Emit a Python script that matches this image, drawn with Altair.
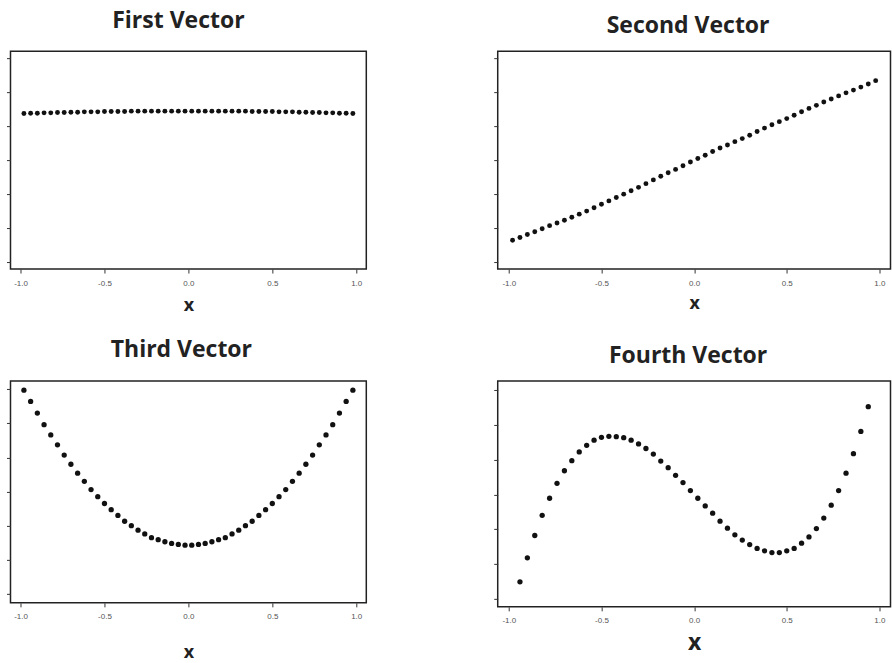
import altair as alt
import pandas as pd

# x positions of the points
x50 = [-0.98, -0.94, -0.90, -0.86, -0.82, -0.78, -0.74, -0.70, -0.66, -0.62,
       -0.58, -0.54, -0.50, -0.46, -0.42, -0.38, -0.34, -0.30, -0.26, -0.22,
       -0.18, -0.14, -0.10, -0.06, -0.02, 0.02, 0.06, 0.10, 0.14, 0.18,
       0.22, 0.26, 0.30, 0.34, 0.38, 0.42, 0.46, 0.50, 0.54, 0.58,
       0.62, 0.66, 0.70, 0.74, 0.78, 0.82, 0.86, 0.90, 0.94, 0.98]
x48 = [-0.94, -0.90, -0.86, -0.82, -0.78, -0.74, -0.70, -0.66, -0.62, -0.58,
       -0.54, -0.50, -0.46, -0.42, -0.38, -0.34, -0.30, -0.26, -0.22, -0.18,
       -0.14, -0.10, -0.06, -0.02, 0.02, 0.06, 0.10, 0.14, 0.18, 0.22,
       0.26, 0.30, 0.34, 0.38, 0.42, 0.46, 0.50, 0.54, 0.58, 0.62,
       0.66, 0.70, 0.74, 0.78, 0.82, 0.86, 0.90, 0.94]

# y values (in units of the unlabeled y ticks, 0..6)
first_vec = [4.37, 4.38, 4.38, 4.39, 4.39, 4.40, 4.40, 4.41, 4.41, 4.42,
             4.42, 4.42, 4.43, 4.43, 4.43, 4.43, 4.44, 4.44, 4.44, 4.44,
             4.44, 4.44, 4.44, 4.44, 4.44, 4.44, 4.44, 4.44, 4.44, 4.44,
             4.44, 4.44, 4.44, 4.44, 4.43, 4.43, 4.43, 4.43, 4.42, 4.42,
             4.42, 4.41, 4.41, 4.40, 4.40, 4.39, 4.39, 4.38, 4.38, 4.37]
second_vec = [0.64, 0.72, 0.81, 0.89, 0.98, 1.07, 1.15, 1.23, 1.32, 1.41,
              1.50, 1.60, 1.70, 1.80, 1.90, 2.00, 2.10, 2.20, 2.31, 2.42,
              2.53, 2.63, 2.73, 2.84, 2.95, 3.05, 3.15, 3.26, 3.36, 3.45,
              3.55, 3.64, 3.74, 3.85, 3.95, 4.05, 4.14, 4.23, 4.33, 4.43,
              4.53, 4.62, 4.72, 4.81, 4.90, 4.99, 5.07, 5.16, 5.25, 5.35]
third_vec = [5.97, 5.64, 5.30, 4.96, 4.66, 4.37, 4.07, 3.80, 3.54, 3.30,
             3.06, 2.85, 2.65, 2.47, 2.30, 2.13, 2.00, 1.87, 1.76, 1.65,
             1.59, 1.53, 1.48, 1.45, 1.43, 1.43, 1.45, 1.48, 1.53, 1.59,
             1.65, 1.76, 1.87, 2.00, 2.13, 2.30, 2.47, 2.65, 2.85, 3.06,
             3.30, 3.54, 3.80, 4.07, 4.37, 4.66, 4.96, 5.30, 5.64, 5.97]
fourth_vec = [0.49, 1.18, 1.82, 2.40, 2.89, 3.32, 3.68, 3.97, 4.22, 4.41,
              4.56, 4.64, 4.67, 4.66, 4.63, 4.56, 4.45, 4.32, 4.16, 3.96,
              3.77, 3.55, 3.34, 3.11, 2.89, 2.67, 2.46, 2.23, 2.03, 1.84,
              1.69, 1.56, 1.45, 1.38, 1.33, 1.33, 1.38, 1.45, 1.60, 1.78,
              2.02, 2.32, 2.69, 3.11, 3.61, 4.17, 4.81, 5.52]

titles = ["First Vector", "Second Vector", "Third Vector", "Fourth Vector"]
x_ticks = [-1.0, -0.5, 0.0, 0.5, 1.0]
y_ticks = [0, 1, 2, 3, 4, 5, 6]


def panel(xs, ys, title, width, height, ydom, title_offset, title_dx,
          x_title_pad, x_title_size, dot_size):
    df = pd.DataFrame({"x": xs, "y": ys})
    return alt.Chart(df).mark_circle(size=dot_size, color="#111111", opacity=1).encode(
        x=alt.X("x:Q",
                scale=alt.Scale(domain=[-1.06, 1.06], nice=False, zero=False),
                axis=alt.Axis(values=x_ticks, title="x",
                              labelExpr="(datum.value < 0 ? '-' : '') + format(abs(datum.value), '.1f')",
                              titlePadding=x_title_pad,
                              titleFontSize=x_title_size)),
        y=alt.Y("y:Q",
                scale=alt.Scale(domain=ydom, nice=False, zero=False),
                axis=alt.Axis(values=y_ticks, labels=False, title=None)),
    ).properties(
        width=width, height=height,
        title=alt.TitleParams(title, font="Open Sans", fontSize=23,
                              fontWeight="bold", color="#222222",
                              offset=title_offset, dx=title_dx),
    )


p1 = panel(x50, first_vec, titles[0], 356, 218, [-0.206, 6.206], 17.9, -10, 9.6, 18, 24)
p2 = panel(x50, second_vec, titles[1], 393, 218, [-0.21, 6.22], 13.5, -6, 7.6, 18, 24)
p3 = panel(x50, third_vec, titles[2], 356, 222, [-0.26, 6.24], 18.5, -7, 22.6, 18, 28)
p4 = panel(x48, fourth_vec, titles[3], 393, 226, [-0.23, 6.26], 12.9, -6, 6.4, 23, 28)

chart = alt.concat(
    p1, p2, p3, p4, columns=2, bounds="flush",
    spacing=alt.RowColnumber(row=112, column=131.5),
).properties(
    padding={"left": 4.5, "top": 9, "right": 0, "bottom": 0},
    background="white",
).configure_view(
    stroke="#222222", strokeWidth=1.5,
).configure_axis(
    domain=False, grid=False, tickColor="#333333", tickSize=4, tickWidth=1,
    labelFont="Liberation Sans", labelFontSize=8, labelColor="#555555",
    labelPadding=6,
    titleFont="Open Sans", titleFontWeight="bold", titleColor="#222222",
)

chart.save("out.html", embed_options={"renderer": "svg", "actions": False})
